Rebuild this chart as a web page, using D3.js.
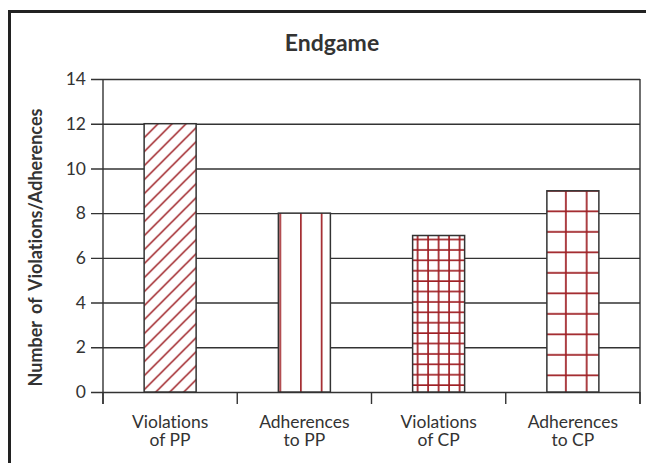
<!DOCTYPE html>
<html lang="en">
<head>
<meta charset="UTF-8">
<script src="https://cdn.jsdelivr.net/npm/d3@7/dist/d3.min.js"></script>
<title>Endgame</title>
<style>
    body { margin: 0; background: #fff; }
    text { font-family: Lato, "Open Sans", sans-serif; fill: #333; font-variant-ligatures: none; }
</style>
</head>
<body>
<svg id="chart" width="646" height="463"></svg>
<script>
    var categories = [["Violations", "of PP"], ["Adherences", "to PP"], ["Violations", "of CP"], ["Adherences", "to CP"]];
    var values = [12, 8, 7, 9];
    var yTicks = [0, 2, 4, 6, 8, 10, 12, 14];
    var patterns = ["diag", "vert", "grid", "grid2"];

    var svg = d3.select("#chart"),
        plotL = 103, plotR = 640, plotT = 79, plotB = 392,
        red = "#9e1f24", ink = "#333";

    // outer frame runs off the page on the right and bottom
    svg.append("rect").attr("x", 9.5).attr("y", 11.5).attr("width", 700).attr("height", 500)
        .attr("fill", "none").attr("stroke", "#222").attr("stroke-width", 3);

    var x = d3.scaleBand().domain(d3.range(categories.length)).range([plotL, plotR]).paddingInner(0).paddingOuter(0);
    var y = d3.scaleLinear().domain([0, 14]).range([plotB, plotT]);
    var barW = 52;

    // gridlines with left ticks
    svg.append("g").attr("class", "grid")
        .attr("transform", "translate(" + plotR + ",0)")
        .call(d3.axisLeft(y).tickValues(yTicks).tickSize(plotR - plotL + 12).tickFormat(""))
        .call(function(g) {
            g.select(".domain").remove();
            g.selectAll("line").attr("stroke", ink).attr("stroke-width", 1.4);
        });

    svg.append("g")
        .attr("transform", "translate(" + (plotL - 12) + ",0)")
        .call(d3.axisLeft(y).tickValues(yTicks).tickSize(0).tickPadding(5))
        .call(function(g) {
            g.select(".domain").remove();
            g.selectAll("text").style("font-size", "17.5px").attr("fill", "#3a3a3a");
        });

    // category boundary ticks + axis line
    svg.append("g").attr("transform", "translate(0," + plotB + ")")
        .selectAll("line").data(d3.range(categories.length + 1)).join("line")
        .attr("x1", function(i) { return plotL + i * x.bandwidth(); })
        .attr("x2", function(i) { return plotL + i * x.bandwidth(); })
        .attr("y1", 0).attr("y2", 12)
        .attr("stroke", ink).attr("stroke-width", 1.4);
    svg.append("line").attr("x1", plotL).attr("x2", plotL).attr("y1", plotT).attr("y2", plotB + 12)
        .attr("stroke", ink).attr("stroke-width", 1.4);
    svg.append("line").attr("x1", plotR).attr("x2", plotR).attr("y1", plotT).attr("y2", plotB + 12)
        .attr("stroke", ink).attr("stroke-width", 1.4);

    var defs = svg.append("defs");
    function barX(i) { return x(i) + (x.bandwidth() - barW) / 2; }

    // hatch patterns, anchored to each bar
    var p0 = defs.append("pattern").attr("id", "diag").attr("patternUnits", "userSpaceOnUse")
        .attr("width", 14).attr("height", 14).attr("x", barX(0)).attr("y", y(values[0]));
    p0.append("rect").attr("width", 14).attr("height", 14).attr("fill", "#fff");
    p0.append("path").attr("d", "M-1,15 L15,-1 M-8,8 L8,-8 M6,22 L22,6")
        .attr("stroke", red).attr("stroke-width", 1.5);

    var p1 = defs.append("pattern").attr("id", "vert").attr("patternUnits", "userSpaceOnUse")
        .attr("width", 20.7).attr("height", 10).attr("x", barX(1) + 1).attr("y", 0);
    p1.append("rect").attr("width", 20.7).attr("height", 10).attr("fill", "#fff");
    p1.append("line").attr("x1", 0.8).attr("x2", 0.8).attr("y1", 0).attr("y2", 10)
        .attr("stroke", red).attr("stroke-width", 1.7);

    var p2 = defs.append("pattern").attr("id", "grid").attr("patternUnits", "userSpaceOnUse")
        .attr("width", 10.5).attr("height", 10.4).attr("x", barX(2) + 4).attr("y", y(values[2]) + 3);
    p2.append("rect").attr("width", 10.5).attr("height", 10.4).attr("fill", "#fff");
    p2.append("path").attr("d", "M1,0 V10.4 M0,1 H10.5")
        .attr("stroke", red).attr("stroke-width", 1.7);

    var p3 = defs.append("pattern").attr("id", "grid2").attr("patternUnits", "userSpaceOnUse")
        .attr("width", 20.8).attr("height", 20.5).attr("x", barX(3) + 18).attr("y", y(values[3]) - 1);
    p3.append("rect").attr("width", 20.8).attr("height", 20.5).attr("fill", "#fff");
    p3.append("path").attr("d", "M1,0 V20.5 M0,1 H20.8")
        .attr("stroke", red).attr("stroke-width", 1.7);

    svg.append("g").selectAll("rect").data(values).join("rect")
        .attr("x", function(d, i) { return barX(i); })
        .attr("y", function(d) { return y(d); })
        .attr("width", barW)
        .attr("height", function(d) { return y(0) - y(d); })
        .attr("fill", function(d, i) { return "url(#" + patterns[i] + ")"; })
        .attr("stroke", ink).attr("stroke-width", 1.5);

    // category labels, two lines each
    [0, 1].forEach(function(j) {
        svg.append("g").selectAll("text").data(categories).join("text")
            .attr("x", function(d, i) { return x(i) + x.bandwidth() / 2; })
            .attr("y", 428 + j * 18)
            .attr("text-anchor", "middle")
            .style("font-size", "17.5px")
            .attr("fill", "#3a3a3a")
            .text(function(d) { return d[j]; });
    });

    svg.append("text").attr("x", 332).attr("y", 51).attr("text-anchor", "middle")
        .style("font-size", "23px").style("font-weight", "bold").attr("fill", "#222").text("Endgame");

    svg.append("text").attr("transform", "translate(42," + ((plotT + plotB) / 2 + 12) + ") rotate(-90)")
        .attr("text-anchor", "middle").style("font-size", "18px").style("font-weight", "bold")
        .style("word-spacing", "3px").attr("fill", "#222")
        .text("Number of Violations/Adherences");
</script>
</body>
</html>
